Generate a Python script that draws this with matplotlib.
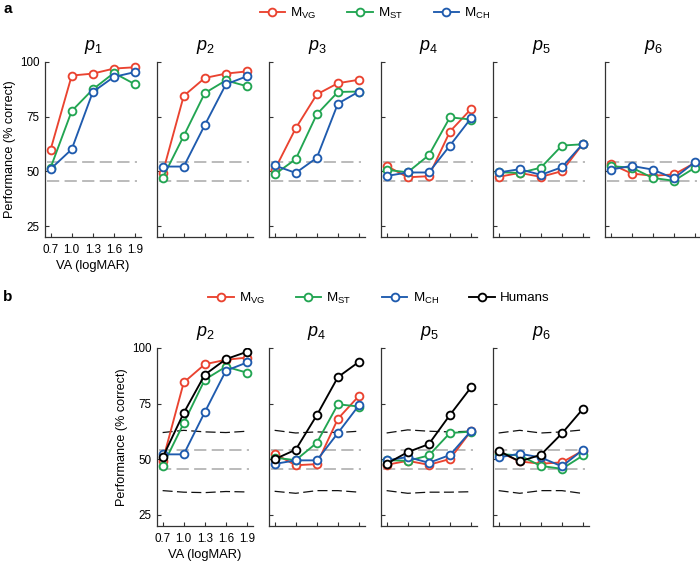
import matplotlib
matplotlib.use("Agg")
import matplotlib.pyplot as plt
from matplotlib.lines import Line2D

plt.rcParams['font.family'] = ['Liberation Sans', 'DejaVu Sans']
plt.rcParams['mathtext.fontset'] = 'custom'
plt.rcParams['mathtext.rm'] = 'Liberation Sans'
plt.rcParams['mathtext.it'] = 'Liberation Sans:italic'

# ---------------- data ----------------
va = [0.7, 1.0, 1.3, 1.6, 1.9]
va_labels = ['0.7', '1.0', '1.3', '1.6', '1.9']
yticks = [25, 50, 75, 100]
panels_a = ['1', '2', '3', '4', '5', '6']
panels_b = ['2', '4', '5', '6']

mvg = [
    [60.0, 93.8, 94.7, 97.0, 97.6],
    [49.2, 84.5, 92.7, 94.7, 95.7],
    [50.7, 69.7, 85.2, 90.3, 91.9],
    [52.5, 47.3, 47.8, 68.2, 78.5],
    [47.5, 49.3, 47.5, 50.1, 62.7],
    [53.4, 49.0, 48.0, 48.6, 53.9],
]
mst = [
    [51.7, 77.6, 87.5, 95.0, 89.8],
    [47.0, 66.2, 85.8, 91.6, 88.9],
    [48.6, 55.6, 76.1, 86.3, 86.5],
    [50.7, 49.6, 57.4, 74.7, 73.7],
    [49.6, 49.3, 51.7, 61.8, 62.4],
    [52.4, 51.7, 47.0, 45.7, 51.7],
]
mch = [
    [51.1, 60.1, 86.3, 93.2, 95.4],
    [52.2, 52.2, 71.2, 89.8, 93.5],
    [52.7, 49.3, 56.2, 81.0, 86.5],
    [47.9, 49.5, 49.5, 61.8, 74.3],
    [49.5, 51.0, 48.4, 51.9, 62.7],
    [50.8, 52.5, 50.8, 46.8, 54.3],
]
humans = [
    [50.8, 70.8, 88.0, 95.0, 98.3],
    [50.0, 54.3, 69.8, 86.9, 93.8],
    [48.0, 53.2, 56.8, 69.9, 82.3],
    [53.8, 49.0, 52.0, 61.6, 72.7],
]
human_upper = [
    [62.0, 63.0, 62.3, 62.0, 62.6],
    [63.0, 61.8, 62.3, 62.0, 62.6],
    [61.8, 63.2, 62.6, 62.3, 62.6],
    [61.8, 63.0, 61.8, 62.3, 63.2],
]
human_lower = [
    [35.9, 35.2, 35.0, 35.5, 35.3],
    [35.6, 34.7, 35.9, 35.9, 35.2],
    [35.9, 34.7, 35.2, 35.2, 35.4],
    [35.9, 34.7, 35.9, 35.9, 34.6],
]
chance_band = [45.7, 54.3]

# ---------------- style ----------------
C_VG = '#EA4330'
C_ST = '#22A552'
C_CH = '#1F5BAE'
C_HU = '#000000'
W, H = 700, 564

fig = plt.figure(figsize=(7.0, 5.64), dpi=100)

def fx(px):
    return px / W

def fy(py):
    return 1 - py / H

mk = dict(marker='o', markersize=5.6, markerfacecolor='white', markeredgewidth=1.35, linewidth=1.35)

def style_ax(ax, first):
    ax.set_xlim(0.62, 1.985)
    ax.set_ylim(20, 100)
    for s in ['top', 'right']:
        ax.spines[s].set_visible(False)
    for s in ['left', 'bottom']:
        ax.spines[s].set_color('#333333')
        ax.spines[s].set_linewidth(0.9)
    ax.set_xticks(va)
    ax.set_yticks(yticks)
    ax.tick_params(direction='in', length=3, width=0.8, color='#333333', labelsize=8.4)
    ax.tick_params(axis='x', pad=5)
    ax.tick_params(axis='y', pad=4)
    if first:
        ax.set_xticklabels(va_labels)
        ax.set_yticklabels([str(t) for t in yticks])
        ax.set_ylabel('Performance (% correct)', fontsize=9.1, labelpad=3)
        ax.set_xlabel('VA (logMAR)', fontsize=9.3, labelpad=3)
    else:
        ax.set_xticklabels([])
        ax.set_yticklabels([])

def chance(ax):
    for v in chance_band:
        ax.plot([0.65, 1.93], [v, v], color='#A8A8A8', linewidth=1.1,
                dashes=(8, 3.5), zorder=1)

# Panel a
a_left = [45, 157, 269, 381, 493, 605]
for i, p in enumerate(panels_a):
    ax = fig.add_axes([fx(a_left[i]), fy(237), fx(96), (237 - 62) / H])
    chance(ax)
    ax.plot(va, mvg[i], color=C_VG, zorder=3, **mk)
    ax.plot(va, mst[i], color=C_ST, zorder=4, **mk)
    ax.plot(va, mch[i], color=C_CH, zorder=5, **mk)
    style_ax(ax, i == 0)
    ax.set_title(r'$\mathit{p}_{\mathit{' + p + '}}$', fontsize=13, pad=9)

# Panel b
b_left = [157, 269, 381, 493]
b_idx = [1, 3, 4, 5]
for j, p in enumerate(panels_b):
    ax = fig.add_axes([fx(b_left[j]), fy(526), fx(96), (526 - 348) / H])
    chance(ax)
    ax.plot(va, human_upper[j], color='#111111', linewidth=0.9, dashes=(8, 3.5), zorder=1)
    ax.plot(va, human_lower[j], color='#111111', linewidth=0.9, dashes=(8, 3.5), zorder=1)
    k = b_idx[j]
    ax.plot(va, mvg[k], color=C_VG, zorder=3, **mk)
    ax.plot(va, mst[k], color=C_ST, zorder=4, **mk)
    ax.plot(va, mch[k], color=C_CH, zorder=5, **mk)
    ax.plot(va, humans[j], color=C_HU, zorder=6, **mk)
    style_ax(ax, j == 0)
    ax.set_title(r'$\mathit{p}_{\mathit{' + p + '}}$', fontsize=13, pad=9)

def handle(c):
    return Line2D([], [], color=c, **mk)

names = [r'M$_{\mathrm{VG}}$', r'M$_{\mathrm{ST}}$', r'M$_{\mathrm{CH}}$']
leg_kw = dict(loc='center', frameon=False, fontsize=9.6, handlelength=1.9,
              columnspacing=2.3, handletextpad=0.4)
fig.legend([handle(C_VG), handle(C_ST), handle(C_CH)], names,
           bbox_to_anchor=(fx(375), fy(13)), ncol=3, **leg_kw)
fig.legend([handle(C_VG), handle(C_ST), handle(C_CH), handle(C_HU)], names + ['Humans'],
           bbox_to_anchor=(fx(379), fy(298)), ncol=4, **leg_kw)

fig.text(fx(3), fy(9), 'a', fontsize=11, fontweight='bold', va='center', ha='left')
fig.text(fx(3), fy(297), 'b', fontsize=11, fontweight='bold', va='center', ha='left')

fig.savefig('out.png', dpi=100)
